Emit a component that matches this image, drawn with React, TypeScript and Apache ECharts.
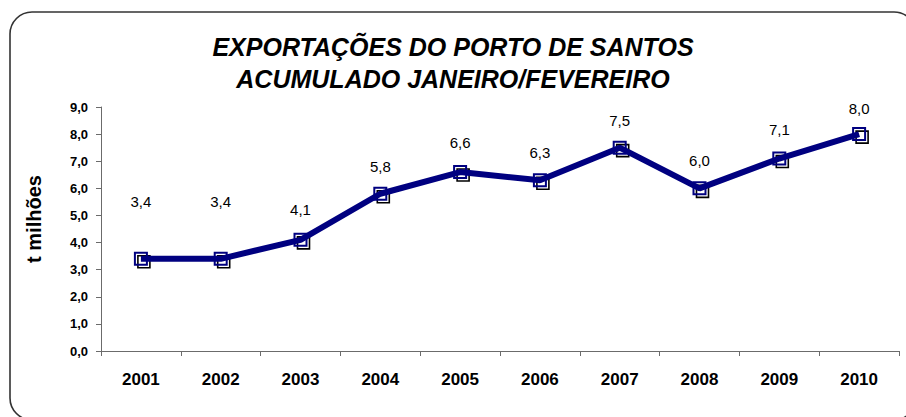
import React, { useEffect, useRef } from "react";
import * as echarts from "echarts";

const years = ["2001", "2002", "2003", "2004", "2005", "2006", "2007", "2008", "2009", "2010"];
const exportsValues = [3.4, 3.4, 4.1, 5.8, 6.6, 6.3, 7.5, 6.0, 7.1, 8.0];
const labelDistances = [43, 43, 16, 13, 15, 13, 13, 13, 15, 11];
const titleLines = ["EXPORTAÇÕES DO PORTO DE SANTOS", "ACUMULADO JANEIRO/FEVEREIRO"];
const yAxisName = "t milhões";

const fmt = (v: number) => v.toFixed(1).replace(".", ",");
const FONT = "Arial, 'Liberation Sans', sans-serif";

export default function App() {
  const ref = useRef<HTMLDivElement>(null);
  useEffect(() => {
    if (!ref.current) return;
    const chart = echarts.init(ref.current, null, { renderer: "svg" });
    chart.setOption({
      animation: false,
      backgroundColor: "#ffffff",
      textStyle: { fontFamily: FONT },
      graphic: [
        {
          type: "rect",
          z: -10,
          shape: { x: 10, y: 12, width: 906, height: 408, r: 22 },
          style: { fill: "#ffffff", stroke: "#333333", lineWidth: 1.6 },
        },
        {
          type: "text",
          x: 34,
          y: 219,
          rotation: Math.PI / 2,
          style: {
            text: yAxisName,
            fontSize: 20,
            fontWeight: "bold",
            fontFamily: FONT,
            fill: "#000",
            align: "center",
            verticalAlign: "middle",
          },
        },
      ],
      title: {
        text: titleLines.join("\n"),
        left: "center",
        top: 26,
        textStyle: {
          fontSize: 25,
          fontWeight: "bold",
          fontStyle: "italic",
          color: "#000000",
          lineHeight: 32,
          fontFamily: FONT,
        },
      },
      grid: { left: 101, right: 7, top: 107, bottom: 66, containLabel: false },
      xAxis: {
        type: "category",
        data: years,
        boundaryGap: true,
        axisLine: { lineStyle: { color: "#6b6b6b", width: 1 } },
        axisTick: { show: true, length: 5, alignWithLabel: false, lineStyle: { color: "#6b6b6b" } },
        axisLabel: { fontSize: 17, fontWeight: "bold", color: "#000", margin: 20 },
        splitLine: { show: false },
      },
      yAxis: {
        type: "value",
        min: 0,
        max: 9,
        interval: 1,
        axisLine: { show: true, lineStyle: { color: "#6b6b6b", width: 1 } },
        axisTick: { show: true, length: 5, lineStyle: { color: "#6b6b6b" } },
        axisLabel: {
          fontSize: 13,
          fontWeight: "bold",
          color: "#000",
          margin: 13,
          formatter: (v: number) => fmt(v),
        },
        splitLine: { show: false },
      },
      series: [
        {
          type: "line",
          data: exportsValues,
          z: 1,
          symbol: "rect",
          symbolSize: 12,
          symbolOffset: [3, 3],
          showAllSymbol: true,
          lineStyle: { width: 0, opacity: 0 },
          itemStyle: { color: "rgba(0,0,0,0)", borderColor: "#000000", borderWidth: 1.6 },
          label: { show: false },
          silent: true,
        },
        {
          type: "line",
          data: exportsValues.map((v, i) => ({
            value: v,
            label: { distance: labelDistances[i] },
          })),
          z: 3,
          symbol: "rect",
          symbolSize: 12,
          showAllSymbol: true,
          lineStyle: { width: 6, color: "#000080" },
          itemStyle: { color: "rgba(0,0,0,0)", borderColor: "#000080", borderWidth: 2 },
          label: {
            show: true,
            position: "top",
            fontSize: 15,
            color: "#000",
            formatter: (p: any) => fmt(p.value),
          },
        },
      ],
    });
    return () => chart.dispose();
  }, []);
  return (
    <div
      ref={ref}
      style={{ position: "fixed", left: 0, top: 0, width: 906, height: 417 }}
    />
  );
}
